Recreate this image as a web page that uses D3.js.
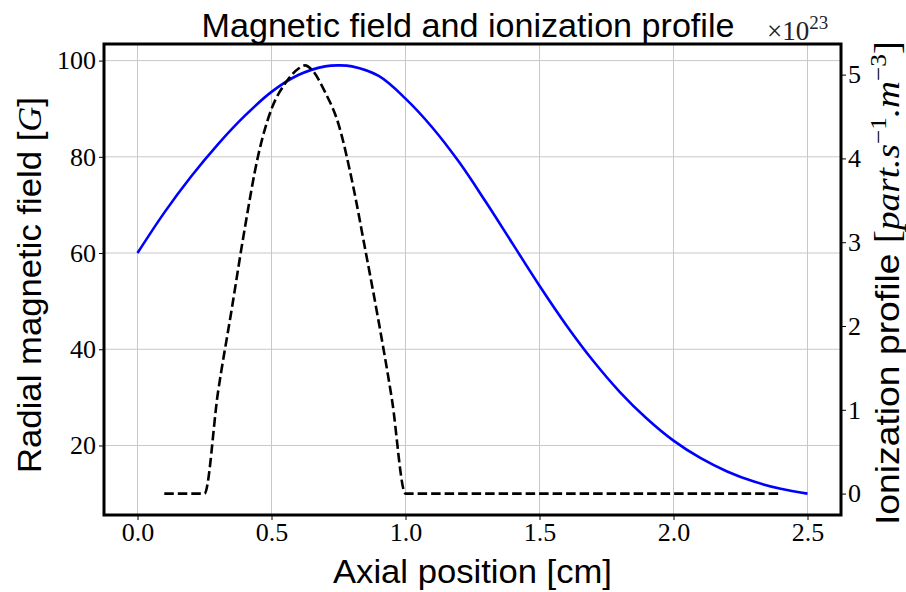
<!DOCTYPE html>
<html lang="en">
<head>
    <meta charset="UTF-8">
    <title>Magnetic field and ionization profile</title>
    <script src="https://d3js.org/d3.v7.min.js"></script>
    <style>
        body { margin: 0; background: #fff; }
        .tick text { font-family: "Liberation Serif", serif; }
    </style>
</head>
<body>
    <div id="chart"></div>

    <script>
        // axial position [cm] for the magnetic field curve
        const fieldX = [0.0, 0.1, 0.2, 0.3, 0.4, 0.5, 0.6, 0.7, 0.75, 0.8, 0.9, 1.0, 1.1, 1.2, 1.3, 1.4, 1.5, 1.6, 1.7, 1.8, 1.9, 2.0, 2.1, 2.2, 2.3, 2.4, 2.5];
        // radial magnetic field [G]
        const fieldB = [60.0, 68.4, 75.9, 82.6, 88.5, 93.5, 97.0, 98.8, 99.0, 98.8, 96.8, 92.1, 86.1, 78.9, 70.6, 61.9, 53.2, 45.0, 37.6, 31.1, 25.6, 21.0, 17.4, 14.6, 12.5, 11.0, 10.0];

        // ionization profile, in units of 1e23 part/s/m^3
        const ionX = [0.1, 0.25, 0.30, 0.35, 0.40, 0.45, 0.50, 0.55, 0.60, 0.625, 0.65, 0.70, 0.75, 0.80, 0.85, 0.90, 0.95, 1.0, 2.4];
        const ionS = [0, 0, 1.20, 2.17, 3.16, 4.03, 4.59, 4.89, 5.07, 5.11, 5.06, 4.79, 4.41, 3.74, 2.91, 2.05, 1.11, 0, 0];

        const xTicks = [0.0, 0.5, 1.0, 1.5, 2.0, 2.5];
        const leftTicks = [20, 40, 60, 80, 100];
        const rightTicks = [0, 1, 2, 3, 4, 5];

        const width = 906;
        const height = 592;
        const margin = { top: 44, right: 65, bottom: 77, left: 104 };

        const svg = d3.select("#chart")
            .append("svg")
            .attr("width", width)
            .attr("height", height);

        const x = d3.scaleLinear()
            .domain([-0.125, 2.625])
            .range([margin.left, width - margin.right]);

        const yB = d3.scaleLinear()
            .domain([5.55, 103.45])
            .range([height - margin.bottom, margin.top]);

        const yS = d3.scaleLinear()
            .domain([-0.2555, 5.3655])
            .range([height - margin.bottom, margin.top]);

        // grid
        const grid = svg.append("g").attr("stroke", "#c8c8c8").attr("stroke-width", 1);
        grid.selectAll("line.vx")
            .data(xTicks)
            .join("line")
            .attr("class", "vx")
            .attr("x1", d => x(d)).attr("x2", d => x(d))
            .attr("y1", margin.top).attr("y2", height - margin.bottom);
        grid.selectAll("line.hy")
            .data(leftTicks)
            .join("line")
            .attr("class", "hy")
            .attr("x1", margin.left).attr("x2", width - margin.right)
            .attr("y1", d => yB(d)).attr("y2", d => yB(d));

        // curves
        const fieldLine = d3.line()
            .x(d => x(d[0]))
            .y(d => yB(d[1]))
            .curve(d3.curveCatmullRom.alpha(0.5));

        svg.append("path")
            .datum(fieldX.map((v, i) => [v, fieldB[i]]))
            .attr("fill", "none")
            .attr("stroke", "#0000ff")
            .attr("stroke-width", 2.6)
            .attr("d", fieldLine);

        const ionLine = d3.line()
            .x(d => x(d[0]))
            .y(d => yS(d[1]))
            .curve(d3.curveMonotoneX);

        svg.append("path")
            .datum(ionX.map((v, i) => [v, ionS[i]]))
            .attr("fill", "none")
            .attr("stroke", "#000")
            .attr("stroke-width", 2.6)
            .attr("stroke-dasharray", "9.5,4")
            .attr("d", ionLine);

        // axes
        const xAxis = svg.append("g")
            .attr("transform", `translate(0,${height - margin.bottom})`)
            .call(d3.axisBottom(x).tickValues(xTicks).tickFormat(d3.format(".1f")).tickSize(5).tickPadding(3));

        const leftAxis = svg.append("g")
            .attr("transform", `translate(${margin.left},0)`)
            .call(d3.axisLeft(yB).tickValues(leftTicks).tickSize(5).tickPadding(3));

        const rightAxis = svg.append("g")
            .attr("transform", `translate(${width - margin.right},0)`)
            .call(d3.axisRight(yS).tickValues(rightTicks).tickFormat(d3.format("d")).tickSize(5).tickPadding(2));

        [xAxis, leftAxis, rightAxis].forEach(a => {
            a.select(".domain").remove();
            a.selectAll(".tick line").attr("stroke", "#000").attr("stroke-width", 1);
            a.selectAll(".tick text").attr("font-size", 26).attr("fill", "#000");
        });

        // frame
        svg.append("rect")
            .attr("x", margin.left)
            .attr("y", margin.top)
            .attr("width", width - margin.left - margin.right)
            .attr("height", height - margin.top - margin.bottom)
            .attr("fill", "none")
            .attr("stroke", "#000")
            .attr("stroke-width", 3);

        // title
        svg.append("text")
            .attr("x", 468)
            .attr("y", 37)
            .attr("text-anchor", "middle")
            .attr("font-family", "Liberation Sans, sans-serif")
            .attr("font-size", 34)
            .attr("textLength", 533)
            .attr("lengthAdjust", "spacingAndGlyphs")
            .text("Magnetic field and ionization profile");

        // x label
        svg.append("text")
            .attr("x", 472.5)
            .attr("y", 583)
            .attr("text-anchor", "middle")
            .attr("font-family", "Liberation Sans, sans-serif")
            .attr("font-size", 34)
            .attr("textLength", 279)
            .attr("lengthAdjust", "spacingAndGlyphs")
            .text("Axial position [cm]");

        // left label
        const leftLabel = svg.append("text")
            .attr("transform", "translate(41,285) rotate(-90)")
            .attr("text-anchor", "middle")
            .attr("font-family", "Liberation Sans, sans-serif")
            .attr("font-size", 34)
            .attr("textLength", 376)
            .attr("lengthAdjust", "spacingAndGlyphs");
        leftLabel.append("tspan").text("Radial magnetic field [");
        leftLabel.append("tspan").attr("font-family", "Liberation Serif, serif").attr("font-style", "italic").text("G");
        leftLabel.append("tspan").text("]");

        // right label
        const rightLabel = svg.append("text")
            .attr("transform", "translate(899,283) rotate(-90)")
            .attr("text-anchor", "middle")
            .attr("font-family", "Liberation Sans, sans-serif")
            .attr("font-size", 34)
            .attr("textLength", 484)
            .attr("lengthAdjust", "spacingAndGlyphs");
        rightLabel.append("tspan").text("Ionization profile ");
        rightLabel.append("tspan").attr("font-family", "Liberation Serif, serif").attr("font-size", 36).text("[");
        rightLabel.append("tspan").attr("font-family", "Liberation Serif, serif").attr("font-style", "italic").text("part.s");
        rightLabel.append("tspan").attr("font-family", "Liberation Serif, serif").attr("font-size", 23).attr("dy", -13).text("\u22121");
        rightLabel.append("tspan").attr("font-family", "Liberation Serif, serif").attr("font-style", "italic").attr("dy", 13).text(".m");
        rightLabel.append("tspan").attr("font-family", "Liberation Serif, serif").attr("font-size", 23).attr("dy", -13).text("\u22123");
        rightLabel.append("tspan").attr("font-family", "Liberation Serif, serif").attr("font-size", 36).attr("dy", 13).text("]");

        // offset text for right axis
        const offset = svg.append("text")
            .attr("x", 767)
            .attr("y", 40)
            .attr("font-family", "Liberation Serif, serif")
            .attr("font-size", 27)
            .attr("fill", "#222");
        offset.append("tspan").text("\u00d710");
        offset.append("tspan").attr("font-size", 19).attr("dy", -11).text("23");
    </script>
</body>
</html>
